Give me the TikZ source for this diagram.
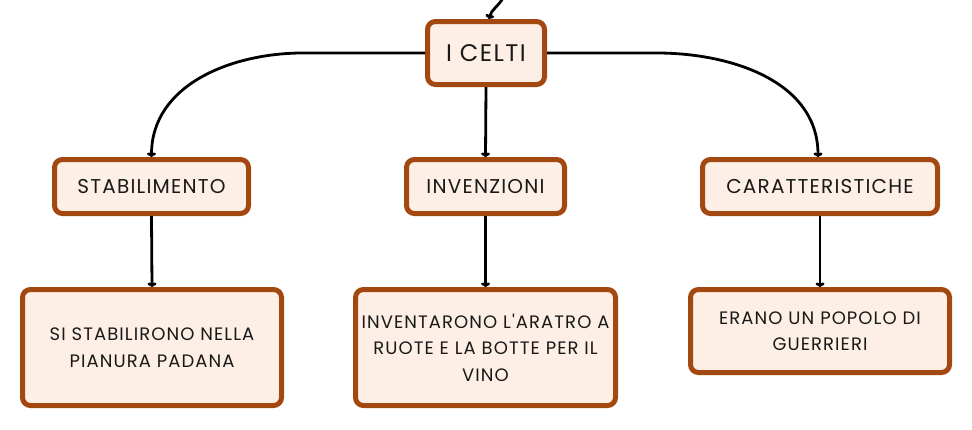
\documentclass[tikz,border=0pt]{standalone}
\usepackage{fontspec}
\setmainfont{Poppins}[LetterSpace=6,Ligatures=TeXOff]
\usetikzlibrary{arrows.meta}
\definecolor{boxborder}{RGB}{164,72,18}
\definecolor{boxfill}{RGB}{253,239,229}
\tikzset{
  box/.style={draw=boxborder, fill=boxfill, line width=5pt, rounded corners=8pt,
    inner sep=0pt, align=center, text=black!90, font=\fontsize{18}{26.5}\selectfont},
  topbox/.style={box, font=\fontsize{20}{24}\selectfont},
  conn/.style={draw=black, line width=2.8pt, -{To[length=4.5pt,width=9pt]}},
}
\begin{document}
\begin{tikzpicture}[x=1pt,y=-1pt]
\useasboundingbox (0,0) rectangle (972,429);
\node[topbox, minimum width=117pt, minimum height=63pt, font=\fontsize{24}{28}\selectfont] (celti) at (486,53) {I CELTI};
\node[topbox, minimum width=194pt, minimum height=54pt] (stab) at (151.5,186.5) {STABILIMENTO};
\node[topbox, minimum width=158pt, minimum height=54pt] (inv) at (485.5,186.5) {INVENZIONI};
\node[topbox, minimum width=235pt, minimum height=54pt] (car) at (820,186.5) {CARATTERISTICHE};
\node[box, minimum width=259pt, minimum height=116pt] (b1) at (152,347.5) {SI STABILIRONO NELLA\\PIANURA PADANA};
\node[box, minimum width=260pt, minimum height=116pt] (b2) at (485.5,347.5) {INVENTARONO L'ARATRO A\\RUOTE E LA BOTTE PER IL\\VINO};
\node[box, minimum width=259pt, minimum height=83pt] (b3) at (820,331) {ERANO UN POPOLO DI\\GUERRIERI};
\coordinate (top) at (503,-2);
\coordinate (lbend) at (303,53);
\coordinate (rbend) at (657,53);
\draw[conn] (top) to[out=240,in=75] ([xshift=3pt]celti.north);
\draw[conn] (celti.west) -- (lbend) to[out=180,in=90] (stab.north);
\draw[conn] (celti.east) -- (rbend) to[out=0,in=90] ([xshift=-2pt]car.north);
\draw[conn] (celti.south) -- (inv.north);
\draw[conn] (stab.south) -- (b1.north);
\draw[conn] (inv.south) -- (b2.north);
\draw[conn] (car.south) -- (b3.north);
\end{tikzpicture}
\end{document}
